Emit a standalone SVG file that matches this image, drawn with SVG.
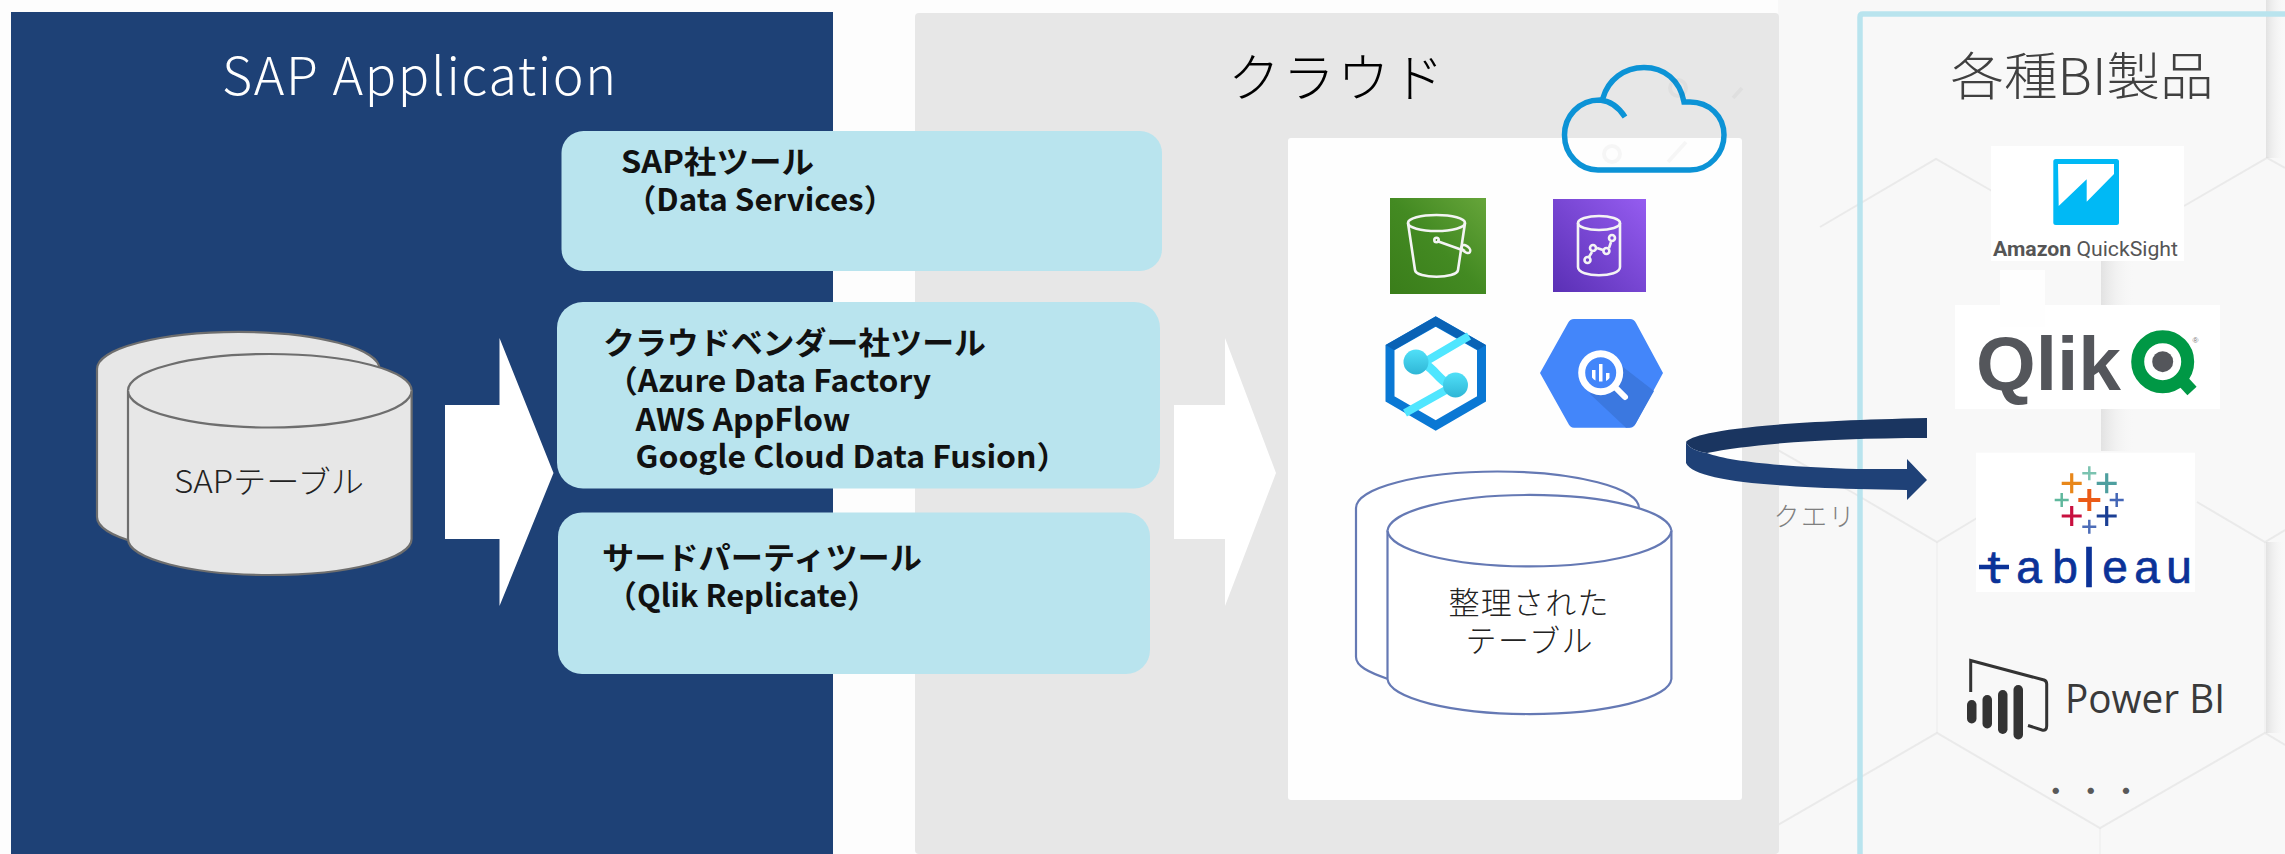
<svg xmlns="http://www.w3.org/2000/svg" width="2285" height="854" viewBox="0 0 2285 854">
<style>
text{font-family:"Noto Sans CJK JP","Noto Sans",sans-serif}
.t{font-weight:300}
.b{font-weight:700;font-size:31px;fill:#111}
.box{fill:#b9e4ee}
.arr{fill:#fff}
.hex{fill:none;stroke:#d9d9d9;stroke-opacity:.45;stroke-width:2}
.hexv{fill:none;stroke:#e2e2e2;stroke-opacity:.35;stroke-width:1.500}
.gc{fill:#e7e7e7;stroke:#6e6e6e;stroke-width:2.2}
.bc{fill:#fff;stroke:#6579b4;stroke-width:2.2}
.lg{fill:#fff}
.ic{fill:none;stroke:#f4f4f4;stroke-width:2.6}
.cr{fill:none;stroke-width:3.2}
.pb{fill:#333}
</style>
<defs>
<linearGradient id="gs3" x1="0" y1="1" x2="1" y2="0"><stop offset="0" stop-color="#3a7d1a"/><stop offset=".5" stop-color="#438a22"/><stop offset="1" stop-color="#66a53a"/></linearGradient>
<linearGradient id="gpu" x1="0" y1="1" x2="1" y2="0"><stop offset="0" stop-color="#5a30b5"/><stop offset="1" stop-color="#955cf0"/></linearGradient>
<linearGradient id="gcy" x1="0" y1="0" x2="0" y2="1"><stop offset="0" stop-color="#50e0f8"/><stop offset="1" stop-color="#2fb6d6"/></linearGradient>
<linearGradient id="gsh" x1="0" y1="0" x2="1" y2="0"><stop offset="0" stop-color="#e2e2e2"/><stop offset="1" stop-color="#f8f8f8" stop-opacity="0"/></linearGradient>
</defs>

<g id="background">
<rect width="2285" height="854" fill="#fdfdfd"/>
<rect x="1778" width="507" height="854" fill="#f8f8f8"/>
<rect x="2101" y="261" width="34" height="190" fill="url(#gsh)"/>
<rect x="2266" y="0" width="19" height="158" fill="url(#gsh)"/>
<rect x="2266" y="542" width="19" height="191" fill="url(#gsh)"/>
<path class="hex" d="M1820 227L1936 159L1992 191M2285 168L2267 158L2184 206M1778 450L1857 495L1937 542L1977 518M2197 502L2265 542L2285 530M1778 825L1937 733L2100 828L2265 733L2285 745"/>
<path class="hexv" d="M2265 542V733M1937 542V733M2100 828V854"/>
</g>

<g id="sap-panel">
<rect x="11" y="12" width="822" height="842" fill="#1e4176"/>
<text class="t" x="419" y="95" font-size="52" fill="#fff" text-anchor="middle" textLength="394" lengthAdjust="spacing">SAP Application</text>
</g>

<g id="cloud-panel">
<rect x="915" y="13" width="864" height="841" rx="4" fill="#e7e7e7"/>
<text class="t" x="1336" y="97" font-size="52" fill="#000" text-anchor="middle" textLength="216" lengthAdjust="spacing">クラウド</text>
<rect x="1288" y="138" width="454" height="662" rx="3" fill="#fefefe"/>
</g>

<g id="bi-panel">
<path d="M1860 854V17Q1860 14 1863 14H2285" fill="none" stroke="#b9e4ee" stroke-width="5.5"/>
<text class="t" x="2082" y="95" font-size="51" fill="#404040" text-anchor="middle" textLength="263" lengthAdjust="spacingAndGlyphs">各種BI製品</text>
</g>

<g id="connectors">
<path class="arr" d="M445 405H499.5V338L553.5 473L499.5 606V539H445Z"/>
<path class="arr" d="M1174 405H1225V338L1276 473L1225 606V539H1174Z"/>
<path id="query-loop-back" d="M1686 442C1692 434 1740 422 1927 418V438C1830 438 1750 444 1707 453C1695 451 1688 447 1686 442Z" fill="#1a3560"/>
<path id="query-loop-front" d="M1686 442V463C1694 480 1760 486 1857 489L1907 490V500L1927 480L1907 459V469L1857 469C1790 467 1730 462 1707 453C1695 451 1688 447 1686 442Z" fill="#1f4177"/>
</g>

<g id="sap-tool">
<rect class="box" x="561.5" y="131" width="600.5" height="140" rx="22"/>
<text class="b" x="621" y="173" textLength="193" lengthAdjust="spacingAndGlyphs">SAP社ツール</text>
<text class="b" x="625" y="211" textLength="270" lengthAdjust="spacingAndGlyphs">（Data Services）</text>
</g>
<g id="vendor-tool">
<rect class="box" x="557" y="302" width="603" height="186.5" rx="26"/>
<text class="b" x="603" y="354" textLength="383" lengthAdjust="spacingAndGlyphs">クラウドベンダー社ツール</text>
<text class="b" x="606" y="392" textLength="325" lengthAdjust="spacingAndGlyphs">（Azure Data Factory</text>
<text class="b" x="635.5" y="431" textLength="215" lengthAdjust="spacingAndGlyphs">AWS AppFlow</text>
<text class="b" x="635.5" y="468" textLength="433" lengthAdjust="spacingAndGlyphs">Google Cloud Data Fusion）</text>
</g>
<g id="third-party-tool">
<rect class="box" x="558" y="512.5" width="592" height="161.5" rx="24"/>
<text class="b" x="602" y="569" textLength="320" lengthAdjust="spacingAndGlyphs">サードパーティツール</text>
<text class="b" x="606" y="607" textLength="272" lengthAdjust="spacingAndGlyphs">（Qlik Replicate）</text>
</g>

<g id="sap-table">
<path class="gc" d="M97 369A141 37 0 0 1 379.5 369V517A141 37 0 0 1 97 517Z"/>
<path class="gc" d="M128 390.5A141.8 36.5 0 0 1 411.6 390.5V539A141.8 36 0 0 1 128 539Z"/>
<path class="gc" d="M128 390.5A141.8 37 0 0 0 411.6 390.5" fill="none"/>
<text class="t" x="269" y="493" font-size="31" fill="#222" text-anchor="middle" textLength="190" lengthAdjust="spacingAndGlyphs">SAPテーブル</text>
</g>

<g id="cloud-icon">
<path d="M1625 117C1618 106 1610 101 1600 100C1578 100 1564.5 117 1564.5 135C1564.5 155 1580 170 1598 170H1690C1710 170 1724 153 1724 135C1724 116 1709 102 1690 102H1684C1680 80 1664 67.5 1644 67.5C1624 67.5 1608 80 1603 98" fill="none" stroke="#0c93d6" stroke-width="5.5"/>
<g fill="none" stroke="#000" stroke-opacity=".03" stroke-width="4"><circle cx="1612" cy="154" r="8"/><circle cx="1678" cy="88" r="8"/><path d="M1668 162L1686 142M1733 98L1742 88"/></g>
</g>

<g id="s3-icon">
<rect x="1390" y="198" width="96" height="96" fill="url(#gs3)"/>
<ellipse class="ic" cx="1436.5" cy="223" rx="28.5" ry="8"/>
<path class="ic" d="M1408 223L1415 270C1416 279 1457 279 1458 270L1465 223"/>
<path class="ic" d="M1437 241L1465 251"/><circle class="ic" cx="1436.5" cy="240" r="2.2"/>
<ellipse class="ic" cx="1466" cy="249" rx="3" ry="5" transform="rotate(-50 1466 249)"/>
</g>
<g id="data-catalog-icon">
<rect x="1553" y="199" width="93" height="93" fill="url(#gpu)"/>
<ellipse class="ic" cx="1599" cy="223" rx="21" ry="7"/>
<path class="ic" d="M1578 223V267C1578 278 1620 278 1620 267V223"/>
<path class="ic" d="M1589 257L1592 252M1597 248L1603 250M1609 248L1611 242"/>
<circle class="ic" cx="1587.5" cy="260" r="3"/><circle class="ic" cx="1593" cy="248" r="3"/><circle class="ic" cx="1606.4" cy="251" r="3"/><circle class="ic" cx="1612" cy="238" r="3"/>
</g>
<g id="synapse-icon">
<path d="M1435.7 321.5L1481.5 347.5V399L1435.7 425.5L1390 399V347.5Z" fill="#fff" stroke="#0a78d4" stroke-width="9"/>
<path d="M1435.7 316.5L1485.7 345L1478 350L1435.7 326L1394 350L1385.7 345Z" fill="#0a62b5"/>
<path d="M1469 336L1418 366M1405 413L1455 385" fill="none" stroke="#50e6ff" stroke-width="8"/>
<path d="M1416 362C1434 362 1438 385 1455 385" fill="none" stroke="#50e6ff" stroke-width="9"/>
<circle cx="1416" cy="362" r="12.5" fill="url(#gcy)"/><circle cx="1455.5" cy="385" r="12.5" fill="url(#gcy)"/>
</g>
<g id="bigquery-icon">
<path d="M1540 373L1568 323Q1570 319 1574 319H1630Q1634 319 1636 323L1663 373L1636 423Q1634 427.700 1630 427.700H1574Q1570 427.700 1568 423Z" fill="#4386fa"/>
<path d="M1614 360L1654 391L1636 423Q1634 427.700 1626 427.700L1590 394Z" fill="#3b78e0"/>
<circle cx="1600.700" cy="372.700" r="19" fill="#4386fa" stroke="#fff" stroke-width="7"/>
<path d="M1616 388L1625 397" stroke="#fff" stroke-width="6" stroke-linecap="round"/>
<path d="M1592 370h3.500v10.500a9 9 0 0 1-3.500-3zM1599 364h3.500v17.500h-3.500zM1606 373h3.500v5a9 9 0 0 1-3.500 3z" fill="#fff"/>
</g>

<g id="organized-table">
<path class="bc" d="M1356 508A141.500 36.500 0 0 1 1639 508V620H1420V657L1388 679C1368 672 1356 666 1356 657Z"/>
<path class="bc" d="M1387.500 530.700A142 36.700 0 0 1 1671.400 530.700V679A142 36 0 0 1 1387.500 679Z"/>
<path class="bc" d="M1387.500 530.700A142 36.700 0 0 0 1671.400 530.700" fill="none"/>
<text class="t" x="1528.500" y="614" font-size="31" fill="#222" text-anchor="middle" textLength="160" lengthAdjust="spacing">整理された</text>
<text class="t" x="1529" y="652" font-size="31" fill="#222" text-anchor="middle" textLength="127" lengthAdjust="spacing">テーブル</text>
</g>

<g id="query-label"><text class="t" x="1814" y="526" font-size="26" fill="#7f7f7f" text-anchor="middle" textLength="81" lengthAdjust="spacing">クエリ</text></g>

<g id="quicksight">
<rect class="lg" x="1991" y="146" width="193" height="115"/>
<rect x="2053.300" y="159" width="65.700" height="66" rx="2.500" fill="#00b9f5"/>
<path d="M2058 164H2114V174L2086.700 201.700V179.300L2058.700 206Z" fill="#fff"/>
<text x="1993" y="255.500" font-size="21" fill="#555" textLength="185" lengthAdjust="spacingAndGlyphs" style="font-family:Roboto,sans-serif"><tspan font-weight="700">Amazon</tspan> QuickSight</text>
</g>

<g id="qlik">
<rect class="lg" x="1955" y="305" width="265" height="104"/>
<rect x="2000" y="270" width="45" height="57" fill="#fefefe"/>
<text x="1976" y="390" font-size="76" font-weight="700" fill="#54565b" textLength="145" lengthAdjust="spacingAndGlyphs" style="font-family:'Liberation Sans',sans-serif">Qlik</text>
<circle cx="2162.700" cy="361.700" r="25" fill="none" stroke="#009845" stroke-width="13"/>
<path d="M2180 378L2192 391" stroke="#009845" stroke-width="12.500"/>
<circle cx="2162.700" cy="361.700" r="10.500" fill="#54565b"/>
<text x="2195.500" y="343" font-size="8" fill="#777" text-anchor="middle" style="font-family:'Liberation Sans',sans-serif">®</text>
</g>

<g id="tableau">
<rect class="lg" x="1976" y="452.700" width="219" height="139.300"/>
<g class="cr">
<path stroke="#e8871a" d="M2061.700 483.300h20M2071.700 473.300v20"/>
<path stroke="#7bc3b0" stroke-width="2.500" d="M2082.300 473.300h14M2089.300 466.300v14"/>
<path stroke="#4e9f9f" d="M2096.700 483.300h20M2106.700 473.300v20"/>
<path stroke="#5fb89d" stroke-width="2.500" d="M2054.700 500h14M2061.700 493v14"/>
<path stroke="#eb5b17" stroke-width="4" d="M2078.300 500h22M2089.300 489v22"/>
<path stroke="#4466b6" stroke-width="2.500" d="M2109.700 500h14M2116.700 493v14"/>
<path stroke="#c8103f" d="M2061.700 516h20M2071.700 506v20"/>
<path stroke="#1b3f94" d="M2096.700 516h20M2106.700 506v20"/>
<path stroke="#4d6db8" stroke-width="2.500" d="M2082.300 526.700h14M2089.300 519.700v14"/>
</g>
<path d="M1979 567H2009" stroke="#0b3298" stroke-width="4.500"/>
<text y="583" font-size="46" fill="#0b3298" stroke="#0b3298" stroke-width=".7" text-anchor="middle" style="font-family:'Liberation Sans',sans-serif"><tspan x="1994">t</tspan><tspan x="2029">a</tspan><tspan x="2065">b</tspan><tspan x="2089" y="587" font-size="56">l</tspan><tspan x="2115" y="583">e</tspan><tspan x="2147">a</tspan><tspan x="2179">u</tspan></text>
</g>

<g id="power-bi">
<path d="M1970.700 692V660.500L2044 680Q2046.700 681 2046.700 684V726Q2046.700 731 2042 730L2028 725.500" fill="none" stroke="#333" stroke-width="3"/>
<rect class="pb" x="1967" y="700" width="9.500" height="23.500" rx="4.700"/>
<rect class="pb" x="1982.500" y="695" width="9.500" height="33.500" rx="4.700"/>
<rect class="pb" x="1998" y="690" width="9.500" height="44" rx="4.700"/>
<rect class="pb" x="2013.500" y="685" width="9.500" height="54.500" rx="4.700"/>
<text x="2065" y="713" font-size="41" fill="#3a3a3a" textLength="160" lengthAdjust="spacingAndGlyphs" style="font-family:'Open Sans',sans-serif">Power BI</text>
</g>

<g id="more-products"><text y="802" font-size="30" fill="#595959"><tspan x="2040.700">・</tspan><tspan x="2075.700">・</tspan><tspan x="2111">・</tspan></text></g>
</svg>
